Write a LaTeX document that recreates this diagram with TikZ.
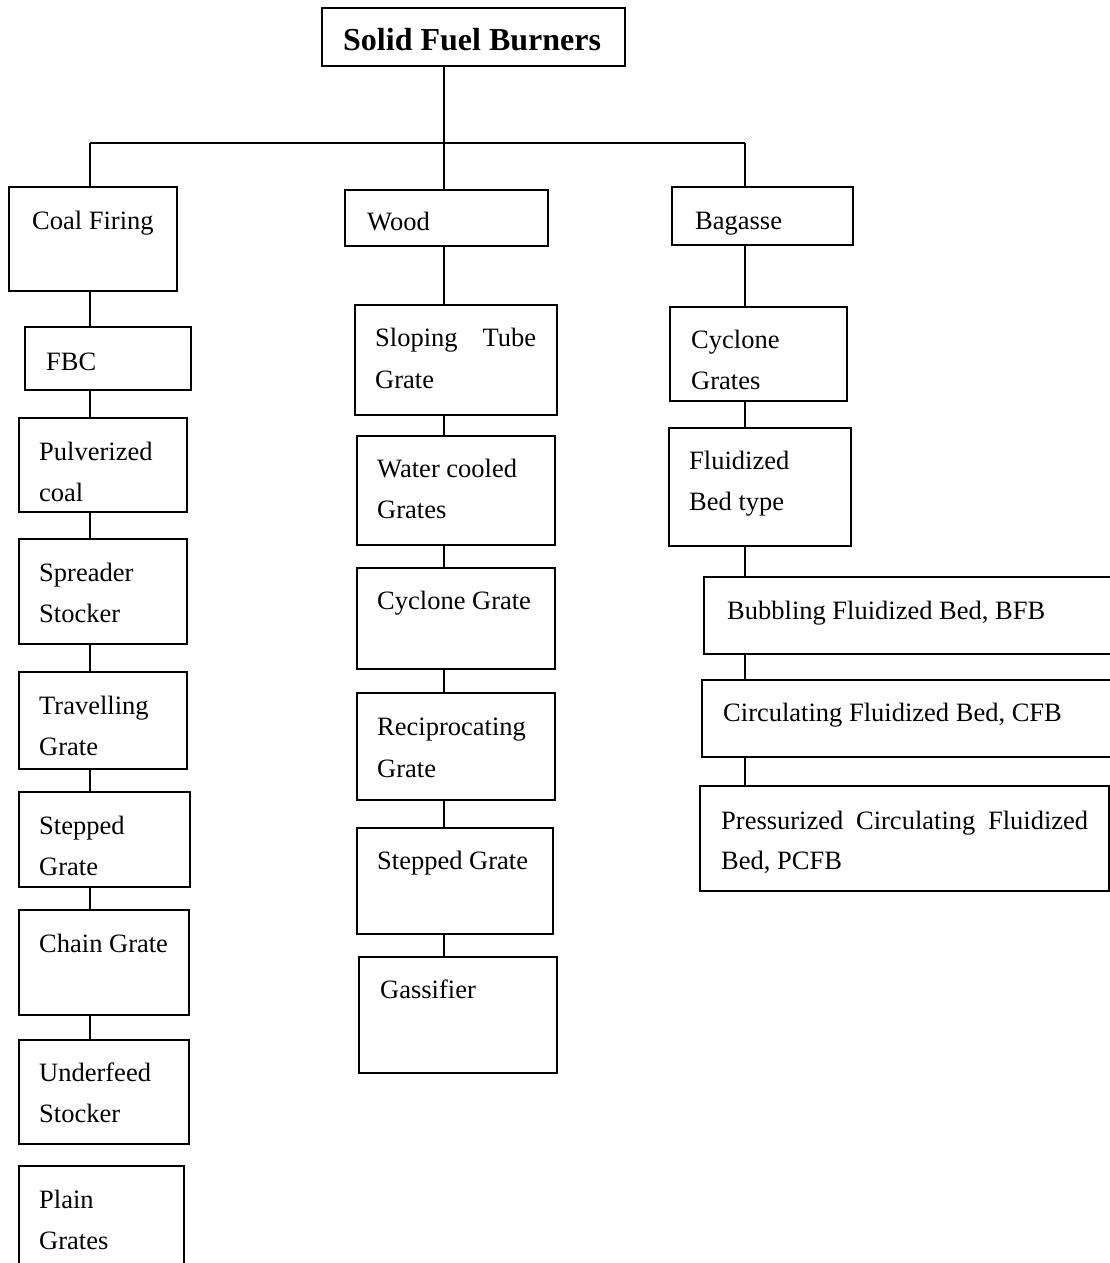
\documentclass[tikz,border=0pt]{standalone}
\usepackage{fontspec}
\setmainfont{Liberation Serif}
\usetikzlibrary{fit,calc}
\tikzset{
  box/.style={draw, line width=1.8pt, inner sep=0pt, rectangle},
  txt/.style={inner sep=0pt, anchor=base west, font=\fontsize{26.5}{32}\selectfont},
  ttl/.style={inner sep=0pt, anchor=base west, font=\bfseries\fontsize{32}{38}\selectfont},
  conn/.style={line width=1.8pt}
}
\newcommand\mybox[5]{\node[box, fit={(#2,#3) (#4,#5)}] (#1) {};}
\begin{document}
\begin{tikzpicture}[x=1pt,y=-1pt]
\useasboundingbox (0,0) rectangle (1110,1263);
\clip (0,0) rectangle (1110,1263);
% title
\mybox{title}{322}{8}{625}{66}
\node[ttl] (tT) at (343,51) {Solid Fuel Burners};
% junctions
\coordinate (jA) at (90,143);
\coordinate (jB) at (444,143);
\coordinate (jC) at (745,143);
% column 1: coal
\mybox{coal}{9}{187}{177}{291}
\node[txt] (t1) at (32,229) {Coal Firing};
\mybox{fbc}{25}{327}{191}{390}
\node[txt] (t2) at (46,370) {FBC};
\mybox{pulv}{19}{418}{187}{512}
\node[txt] (t3a) at (39,460) {Pulverized};
\node[txt] (t3b) at (39,501) {coal};
\mybox{spread}{19}{539}{187}{644}
\node[txt] (t4a) at (39,581) {Spreader};
\node[txt] (t4b) at (39,622) {Stocker};
\mybox{trav}{19}{672}{187}{769}
\node[txt] (t5a) at (39,714) {Travelling};
\node[txt] (t5b) at (39,755) {Grate};
\mybox{step1}{19}{792}{190}{887}
\node[txt] (t6a) at (39,834) {Stepped};
\node[txt] (t6b) at (39,875) {Grate};
\mybox{chain}{19}{910}{189}{1015}
\node[txt] (t7) at (39,952) {Chain Grate};
\mybox{under}{19}{1040}{189}{1144}
\node[txt] (t8a) at (39,1081) {Underfeed};
\node[txt] (t8b) at (39,1122) {Stocker};
\mybox{plain}{19}{1166}{184}{1300}
\node[txt] (t9a) at (39,1208) {Plain};
\node[txt] (t9b) at (39,1249) {Grates};
% column 2: wood
\mybox{wood}{345}{190}{548}{246}
\node[txt] (w0) at (367,230) {Wood};
\mybox{slope}{355}{305}{557}{415}
\node[txt] (w1a) at (375,346) {\makebox[161pt][s]{Sloping Tube}};
\node[txt] (w1b) at (375,388) {Grate};
\mybox{water}{357}{436}{555}{545}
\node[txt] (w2a) at (377,477) {Water cooled};
\node[txt] (w2b) at (377,518) {Grates};
\mybox{cyc}{357}{568}{555}{669}
\node[txt] (w3) at (377,609) {Cyclone Grate};
\mybox{recip}{357}{693}{555}{800}
\node[txt] (w4a) at (377,735) {Reciprocating};
\node[txt] (w4b) at (377,777) {Grate};
\mybox{step2}{357}{828}{553}{934}
\node[txt] (w5) at (377,869) {Stepped Grate};
\mybox{gas}{359}{957}{557}{1073}
\node[txt] (w6) at (380,998) {Gassifier};
% column 3: bagasse
\mybox{bag}{672}{187}{853}{245}
\node[txt] (b0) at (695,229) {Bagasse};
\mybox{cycg}{670}{307}{847}{401}
\node[txt] (b1a) at (691,348) {Cyclone};
\node[txt] (b1b) at (691,389) {Grates};
\mybox{fluid}{669}{428}{851}{546}
\node[txt] (b2a) at (689,469) {Fluidized};
\node[txt] (b2b) at (689,510) {Bed type};
\mybox{bfb}{704}{577}{1130}{654}
\node[txt] (b3) at (727,619) {Bubbling Fluidized Bed, BFB};
\mybox{cfb}{702}{680}{1130}{757}
\node[txt] (b4) at (723,721) {Circulating Fluidized Bed, CFB};
\mybox{pcfb}{700}{786}{1109}{891}
\node[txt] (b5a) at (721,829) {\makebox[367pt][s]{Pressurized Circulating Fluidized}};
\node[txt] (b5b) at (721,869) {Bed, PCFB};
% connectors
\draw[conn] (title.south -| jB) -- (jB);
\draw[conn] (jA) -- (jC);
\draw[conn] (jA) -- (coal.north -| jA);
\draw[conn] (jB) -- (wood.north -| jB);
\draw[conn] (jC) -- (bag.north -| jC);
\foreach \a/\b in {coal/fbc, fbc/pulv, pulv/spread, spread/trav, trav/step1, step1/chain, chain/under}
  \draw[conn] (\a.south -| jA) -- (\b.north -| jA);
\foreach \a/\b in {wood/slope, slope/water, water/cyc, cyc/recip, recip/step2, step2/gas}
  \draw[conn] (\a.south -| jB) -- (\b.north -| jB);
\foreach \a/\b in {bag/cycg, cycg/fluid, fluid/bfb, bfb/cfb, cfb/pcfb}
  \draw[conn] (\a.south -| jC) -- (\b.north -| jC);
\end{tikzpicture}
\end{document}
